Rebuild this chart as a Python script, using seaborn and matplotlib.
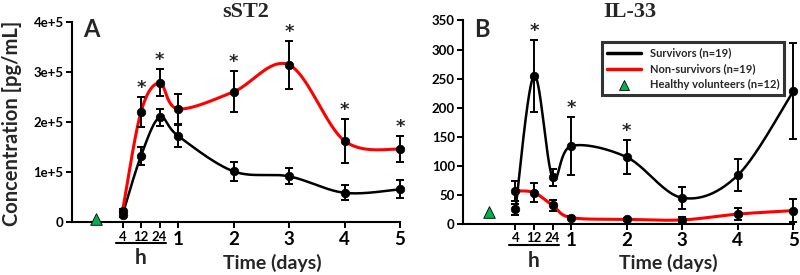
import numpy as np
import pandas as pd
import seaborn as sns
from matplotlib import pyplot as plt
from matplotlib.lines import Line2D
import matplotlib.transforms as mtransforms

sns.set_style('ticks')
plt.rcParams['font.family'] = ['Lato', 'DejaVu Sans']
plt.rcParams['font.weight'] = 'bold'

# time points: 4h, 12h, 24h, then day 1..5
time_labels = ['4', '12', '24', '1', '2', '3', '4', '5']

# sST2 [pg/mL]
sst2_surv = [15e3, 133e3, 210e3, 173e3, 102e3, 92e3, 59e3, 66e3]
sst2_surv_err = [5e3, 18e3, 17e3, 22e3, 19e3, 16e3, 15e3, 18e3]
sst2_non = [22e3, 221e3, 279e3, 227e3, 261e3, 315e3, 163e3, 146e3]
sst2_non_err = [4e3, 30e3, 27e3, 30e3, 41e3, 48e3, 44e3, 26e3]
sst2_healthy = 7e3
sst2_star = [0, 1, 1, 0, 1, 1, 1, 1]

# IL-33 [pg/mL]
il33_surv = [25, 255, 80, 134, 115, 45, 84, 229]
il33_surv_err = [10, 62, 14, 50, 29, 19, 28, 83]
il33_non = [57, 54, 32, 11, 8, 7, 17, 23]
il33_non_err = [17, 17, 9, 3, 3, 5, 11, 20]
il33_healthy = 21
il33_star = [0, 1, 0, 1, 1, 0, 0, 0]

# layout: hours squeezed into the first day
x_pos = np.array([0, 1/3, 2/3, 1, 2, 3, 4, 5])
x_healthy = -0.48
green = '#00b050'


def smooth(x, y, n=40):
    # excel-like smoothed line (bezier through the points)
    p = np.column_stack([x, y]).astype(float)
    p = np.vstack([p[0], p, p[-1]])
    t = np.linspace(0, 1, n)[:, None]
    out = []
    for i in range(1, len(p) - 2):
        p0, p1, p2, p3 = p[i-1], p[i], p[i+1], p[i+2]
        c1 = p1 + (p2 - p0) / 6
        c2 = p2 - (p3 - p1) / 6
        seg = (1-t)**3*p1 + 3*(1-t)**2*t*c1 + 3*(1-t)*t**2*c2 + t**3*p2
        out.append(seg)
    out = np.vstack(out)
    return out[:, 0], out[:, 1]


def panel(ax, surv, surv_err, non, non_err, healthy, star, ymax, yticks, yticklabels, star_off):
    for vals, col, lw in [(surv, 'black', 1.8), (non, 'red', 2.2)]:
        cx, cy = smooth(x_pos, vals)
        df = pd.DataFrame({'x': cx, 'y': cy})
        sns.lineplot(data=df, x='x', y='y', sort=False, estimator=None,
                     color=col, lw=lw, ax=ax, zorder=2)
    for vals, err in [(surv, surv_err), (non, non_err)]:
        ax.errorbar(x_pos, vals, yerr=err, fmt='none', ecolor='black',
                    elinewidth=1.4, capsize=3, capthick=1.4, zorder=3, clip_on=False)
        sns.scatterplot(x=x_pos, y=vals, color='black', s=38, edgecolor='black',
                        zorder=4, ax=ax, clip_on=False)
    sns.scatterplot(x=[x_healthy], y=[healthy], marker='^', color=green, s=70,
                    edgecolor='black', linewidth=0.6, zorder=4, ax=ax, clip_on=False)
    tops = np.maximum(np.array(surv) + surv_err, np.array(non) + non_err)
    for xi, top, st in zip(x_pos, tops, star):
        if st:
            ax.annotate('*', (xi, top), xytext=(0, star_off), textcoords='offset points',
                        ha='center', va='baseline', fontsize=13, family='DejaVu Sans')
    ax.set_ylim(0, ymax)
    ax.set_yticks(yticks)
    ax.set_yticklabels(yticklabels, fontsize=9.5, fontweight='bold')
    ax.set_xticks(x_pos)
    ax.set_xticklabels(time_labels, fontweight='bold')
    for i, lab in enumerate(ax.get_xticklabels()):
        lab.set_fontsize(9.5 if i < 3 else 13.5)
    ax.set_xlabel('')
    ax.set_ylabel('')
    ax.tick_params(direction='out', length=4, width=1.4, colors='black', pad=2)
    for s in ['top', 'right']:
        ax.spines[s].set_visible(False)
    for s in ['left', 'bottom']:
        ax.spines[s].set_linewidth(1.5)
        ax.spines[s].set_color('black')
    trans = mtransforms.blended_transform_factory(ax.transData, ax.transAxes)
    ax.plot([-0.11, 0.79], [-0.105, -0.105], color='black', lw=1.5, transform=trans, clip_on=False)
    ax.text(1/3, -0.18, 'h', transform=trans, ha='center', va='center', fontsize=15, fontweight='bold')


fig = plt.figure(figsize=(8, 2.75), dpi=100)
axA = fig.add_axes([0.09, 0.1916, 0.41, 0.727])
axB = fig.add_axes([0.579, 0.1855, 0.4135, 0.74])

panel(axA, sst2_surv, sst2_surv_err, sst2_non, sst2_non_err, sst2_healthy, sst2_star,
      4e5, [0, 1e5, 2e5, 3e5, 4e5], ['0', '1e+5', '2e+5', '3e+5', '4e+5'], 3)
axA.set_xlim(-0.91, 5.0)
panel(axB, il33_surv, il33_surv_err, il33_non, il33_non_err, il33_healthy, il33_star,
      350, list(range(0, 351, 50)), [str(v) for v in range(0, 351, 50)], 3)
axB.set_xlim(-0.94, 5.01)

handles = [Line2D([], [], color='black', lw=2.5),
           Line2D([], [], color='red', lw=2.5),
           Line2D([], [], color=green, marker='^', ls='none', markersize=7,
                  markeredgecolor='black', markeredgewidth=0.6)]
leg = axB.legend(handles, ['Survivors (n=19)', 'Non-survivors (n=19)', 'Healthy volunteers (n=12)'],
                 loc='upper left', bbox_to_anchor=(0.746, 0.866), bbox_transform=fig.transFigure,
                 fontsize=8, frameon=True, fancybox=False, handlelength=3, borderpad=0.45,
                 labelspacing=0.45, handletextpad=0.8)
leg.get_frame().set_edgecolor('black')
leg.get_frame().set_linewidth(2.2)
for t in leg.get_texts():
    t.set_fontweight('bold')

fig.text(0.015, 0.55, 'Concentration [pg/mL]', rotation=90, ha='center', va='center',
         fontsize=14.5, fontweight='bold')
fig.text(0.34, 0.044, 'Time (days)', ha='center', va='center', fontsize=14, fontweight='bold')
fig.text(0.835, 0.044, 'Time (days)', ha='center', va='center', fontsize=14, fontweight='bold')
fig.text(0.3075, 0.956, 'sST2', ha='center', va='center', fontsize=16, fontweight='bold',
         family='Liberation Serif')
fig.text(0.7875, 0.956, 'IL-33', ha='center', va='center', fontsize=16, fontweight='bold',
         family='Liberation Serif')
fig.text(0.114, 0.891, 'A', ha='center', va='center', fontsize=17, fontweight='bold')
fig.text(0.6025, 0.891, 'B', ha='center', va='center', fontsize=17, fontweight='bold')

fig.savefig('out.png', dpi=100)
